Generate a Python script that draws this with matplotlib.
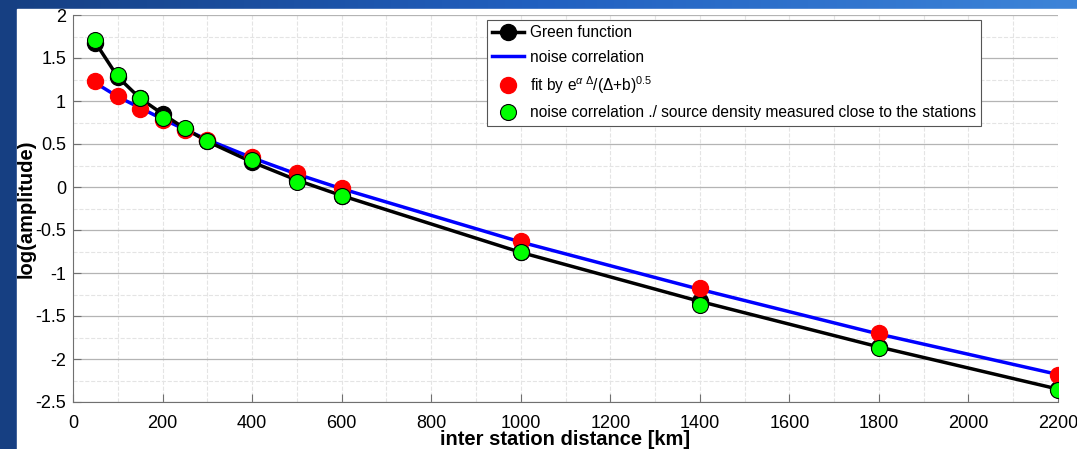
import numpy as np
import matplotlib
matplotlib.use("Agg")
import matplotlib.pyplot as plt
from matplotlib.patches import Rectangle

plt.rcParams['font.family'] = ['Liberation Sans', 'DejaVu Sans']
plt.rcParams['mathtext.fontset'] = 'custom'
plt.rcParams['mathtext.rm'] = 'Liberation Sans'
plt.rcParams['mathtext.it'] = 'Liberation Sans:italic'

# distances in km
dist = [50, 100, 150, 200, 250, 300, 400, 500, 600, 1000, 1400, 1800, 2200]
green_fn = [1.68, 1.28, 1.03, 0.85, 0.68, 0.53, 0.29, 0.08, -0.10, -0.76, -1.33, -1.86, -2.35]
noise_corr = [1.21, 1.05, 0.92, 0.79, 0.67, 0.55, 0.34, 0.15, -0.02, -0.64, -1.19, -1.71, -2.18]
fit = [1.23, 1.06, 0.91, 0.78, 0.66, 0.55, 0.35, 0.16, -0.01, -0.63, -1.18, -1.70, -2.19]
corr_density = [1.71, 1.30, 1.03, 0.80, 0.69, 0.54, 0.31, 0.06, -0.11, -0.75, -1.37, -1.87, -2.36]

fig = plt.figure(figsize=(10.77, 4.49), dpi=100)

# slide background: blue gradient, white panel
bg = fig.add_axes([0, 0, 1, 1], zorder=-10)
grad = np.linspace(0, 1, 256)[None, :]
bg.imshow(grad, aspect='auto', extent=[0, 1, 0, 1],
          cmap=matplotlib.colors.LinearSegmentedColormap.from_list('slide', ['#163f82', '#2160c0', '#3d84d8']))
bg.add_patch(Rectangle((17 / 1077, 0), 1, (449 - 9) / 449, color='white'))
bg.set_xlim(0, 1)
bg.set_ylim(0, 1)
bg.axis('off')

ax = fig.add_axes([73 / 1077, 47 / 449, 985 / 1077, 387 / 449])
ax.patch.set_alpha(0)

ms = 11.5
ax.plot(dist, green_fn, color='black', lw=2.5, marker='o', ms=ms,
        mfc='black', mec='black', label='Green function', zorder=3)
ax.plot(dist, noise_corr, color='blue', lw=2.5, label='noise correlation', zorder=2)
ax.plot(dist, fit, ls='none', marker='o', ms=ms, mfc='red', mec='red',
        label=r'fit by e$^{\alpha\ \Delta}$/($\Delta$+b)$^{0.5}$', zorder=4)
ax.plot(dist, corr_density, ls='none', marker='o', ms=ms, mfc='#00ff00', mec='black',
        mew=0.8, label='noise correlation ./ source density measured close to the stations', zorder=5)

ax.set_xlim(0, 2200)
ax.set_ylim(-2.5, 2)
ax.set_xticks(np.arange(0, 2201, 200))
ax.set_yticks(np.arange(-2.5, 2.01, 0.5))
ax.set_yticklabels(['-2.5', '-2', '-1.5', '-1', '-0.5', '0', '0.5', '1', '1.5', '2'])
ax.set_xticks(np.arange(0, 2201, 100), minor=True)
ax.set_yticks(np.arange(-2.5, 2.01, 0.25), minor=True)
ax.xaxis.grid(True, which='both', color='#e4e4e4', lw=0.8, ls='--')
ax.yaxis.grid(True, which='minor', color='#e4e4e4', lw=0.8, ls='--')
ax.yaxis.grid(True, which='major', color='#b4b4b4', lw=0.9, ls='-')
ax.set_axisbelow(True)
ax.tick_params(which='major', direction='in', length=6, color='#707070', labelsize=13)
ax.tick_params(axis='x', which='major', pad=9)
ax.tick_params(axis='y', which='major', pad=5)
ax.tick_params(which='minor', length=0)
for s in ['top', 'right']:
    ax.spines[s].set_visible(False)
for s in ['left', 'bottom']:
    ax.spines[s].set_color('#707070')

ax.set_xlabel('inter station distance [km]', fontsize=14.5, fontweight='bold', labelpad=-1)
ax.set_ylabel('log(amplitude)', fontsize=14.5, fontweight='bold', labelpad=0)

leg = ax.legend(loc='upper right', bbox_to_anchor=(0.922, 0.987), fontsize=11.2,
                frameon=True, fancybox=False, edgecolor='#555555', framealpha=1,
                handlelength=2.0, handletextpad=0.4, borderpad=0.35, labelspacing=0.6,
                borderaxespad=0)
leg.get_frame().set_linewidth(0.8)

fig.savefig('out.png', dpi=100)
